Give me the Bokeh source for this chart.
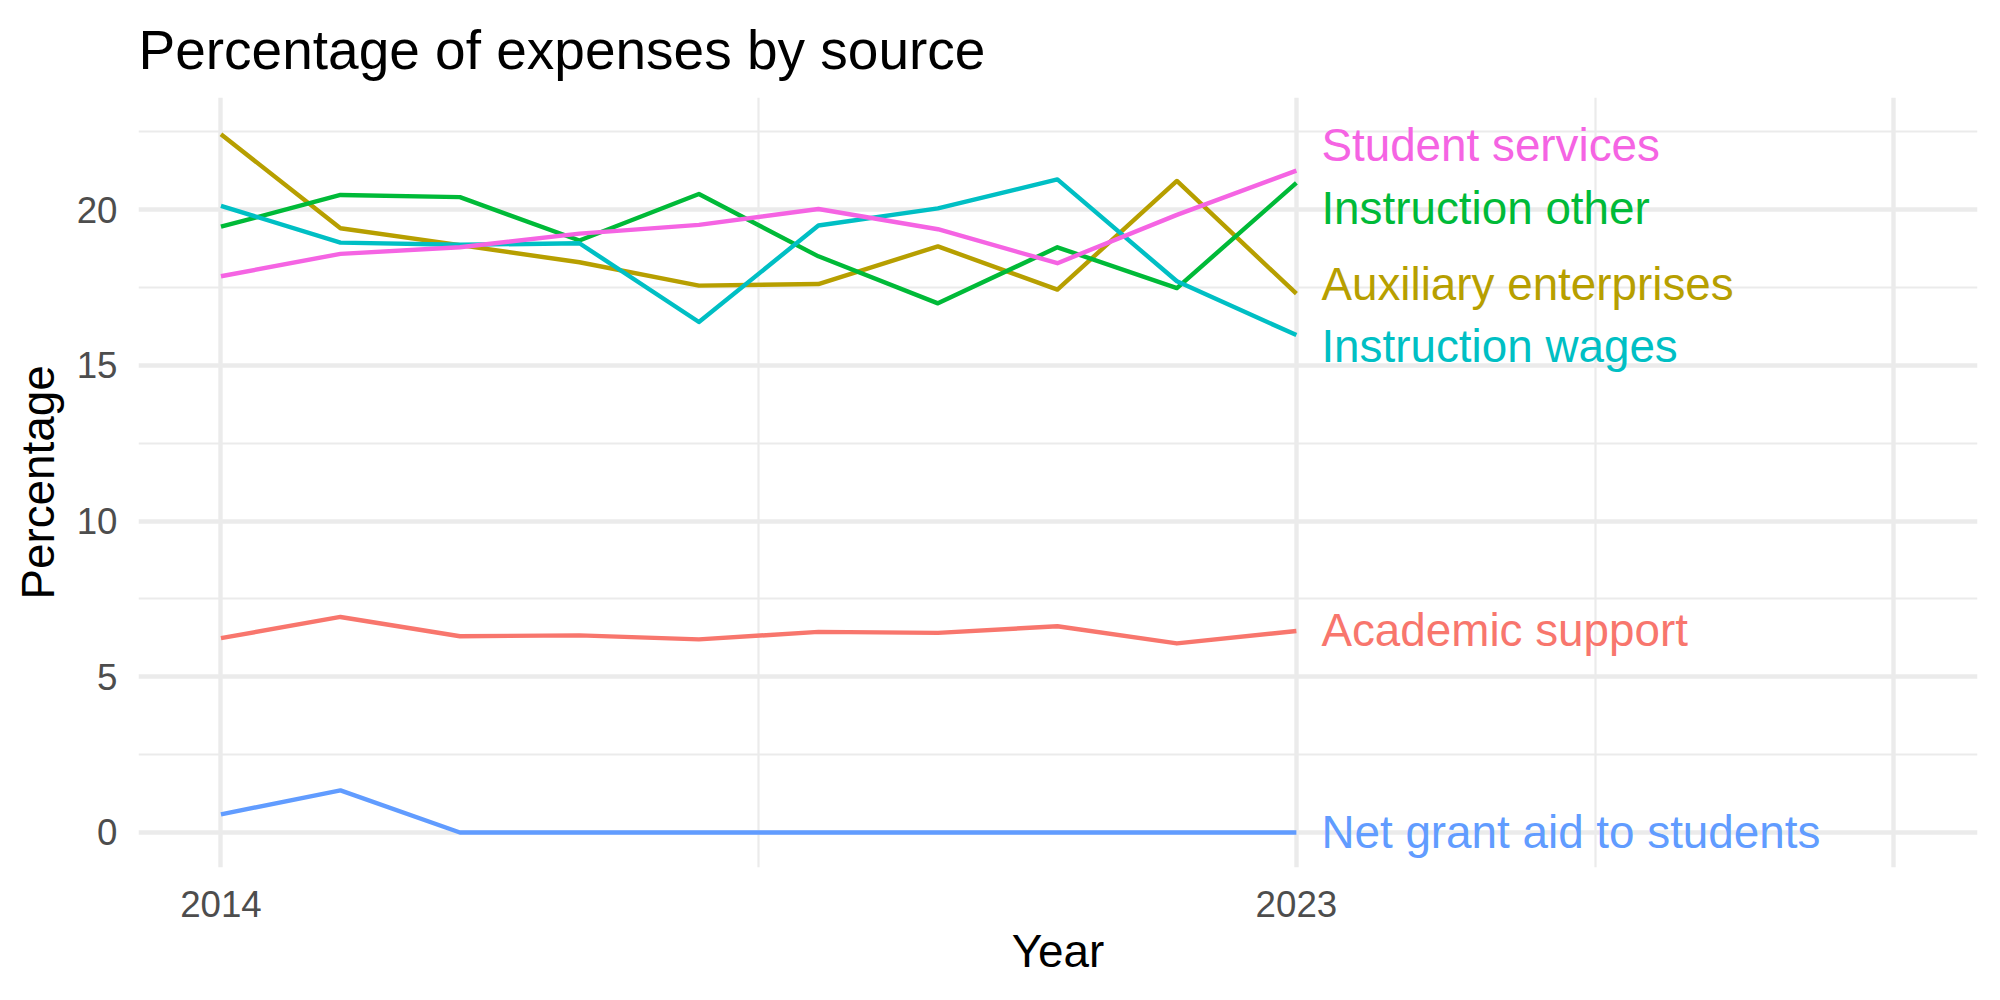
from bokeh.plotting import figure
from bokeh.models import FixedTicker, Range1d, ColumnDataSource
from bokeh.core.properties import value
from bokeh.embed import file_html
from bokeh.resources import INLINE

years = [2014, 2015, 2016, 2017, 2018, 2019, 2020, 2021, 2022, 2023]

academic_support = [6.24, 6.92, 6.30, 6.33, 6.20, 6.44, 6.41, 6.62, 6.07, 6.47]
auxiliary_enterprises = [22.42, 19.40, 18.86, 18.31, 17.56, 17.61, 18.82, 17.43, 20.92, 17.30]
instruction_other = [19.45, 20.47, 20.40, 19.01, 20.50, 18.50, 16.99, 18.79, 17.48, 20.86]
instruction_wages = [20.12, 18.94, 18.87, 18.92, 16.39, 19.49, 20.04, 20.97, 17.70, 15.97]
net_grant_aid = [0.58, 1.35, 0.0, 0.0, 0.0, 0.0, 0.0, 0.0, 0.0, 0.0]
student_services = [17.86, 18.58, 18.79, 19.23, 19.51, 20.02, 19.37, 18.28, 19.83, 21.25]

series_names = ["Academic support", "Auxiliary enterprises", "Instruction other",
                "Instruction wages", "Net grant aid to students", "Student services"]
series_values = [academic_support, auxiliary_enterprises, instruction_other,
                 instruction_wages, net_grant_aid, student_services]
series_colors = ["#F8766D", "#B79F00", "#00BA38", "#00BFC4", "#619CFF", "#F564E3"]

# end-label vertical positions (repelled)
label_y = [6.47, 17.6, 20.02, 15.6, 0.0, 22.05]

x_tick_labels = [2014, 2023]
y_ticks = [0, 5, 10, 15, 20]

FONT = "Liberation Sans"

p = figure(width=2000, height=1000, output_backend="svg", toolbar_location=None,
           x_range=Range1d(2013.31, 2028.70), y_range=Range1d(-1.125, 23.6),
           min_border_left=138, min_border_right=23, min_border_top=96,
           min_border_bottom=133, title="Percentage of expenses by source")
p.outline_line_color = None
p.background_fill_color = "white"
p.border_fill_color = "white"

p.title.text_font = FONT
p.title.text_font_size = "55px"
p.title.text_font_style = "normal"
p.title.text_color = "black"
p.title.align = "left"
p.title.standoff = 33

# grid
p.xgrid.ticker = FixedTicker(ticks=[2014, 2023, 2028], minor_ticks=[2018.5, 2025.5])
p.ygrid.ticker = FixedTicker(ticks=y_ticks, minor_ticks=[2.5, 7.5, 12.5, 17.5, 22.5])
for g in (p.xgrid, p.ygrid):
    g.grid_line_color = "#EBEBEB"
    g.grid_line_width = 4.4
    g.minor_grid_line_color = "#EBEBEB"
    g.minor_grid_line_width = 2.2

# axes
p.xaxis.ticker = FixedTicker(ticks=x_tick_labels)
p.yaxis.ticker = FixedTicker(ticks=y_ticks)
for ax in (p.xaxis, p.yaxis):
    ax.axis_line_color = None
    ax.major_tick_line_color = None
    ax.minor_tick_line_color = None
    ax.major_tick_out = 0
    ax.major_tick_in = 0
    ax.minor_tick_out = 0
    ax.major_label_text_font = FONT
    ax.major_label_text_font_size = "36.7px"
    ax.major_label_text_color = "#4D4D4D"
    ax.axis_label_text_font = FONT
    ax.axis_label_text_font_size = "45.8px"
    ax.axis_label_text_font_style = "normal"
    ax.axis_label_text_color = "black"
p.xaxis.axis_label = "Year"
p.yaxis.axis_label = "Percentage"
p.xaxis.major_label_standoff = 23
p.yaxis.major_label_standoff = 21
p.xaxis.axis_label_standoff = 6
p.yaxis.axis_label_standoff = 10

for name, vals, col in zip(series_names, series_values, series_colors):
    p.line(years, vals, line_color=col, line_width=4.4, line_join="round")

src = ColumnDataSource(dict(x=[years[-1]] * len(series_names), y=label_y,
                            text=series_names, color=series_colors))
p.text(x="x", y="y", text="text", source=src, text_color="color",
       text_font=value(FONT), text_font_size=value("45.8px"),
       text_align="left", text_baseline="middle", x_offset=25)

open("out.html", "w").write(file_html(p, INLINE))
